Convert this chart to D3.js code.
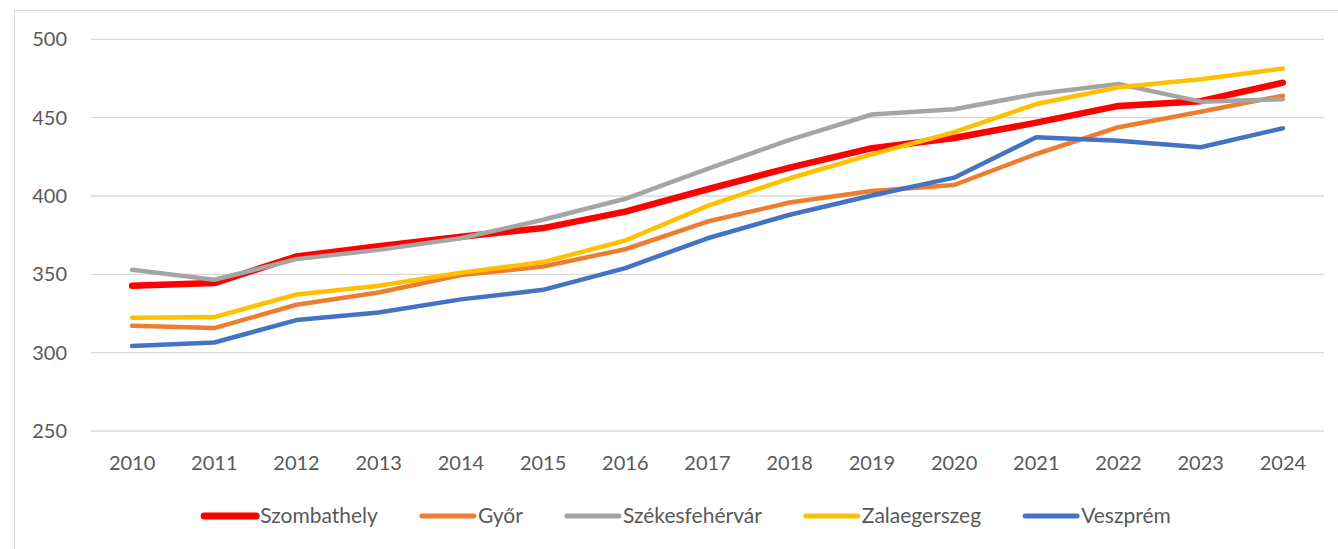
<!DOCTYPE html>
<html>
  <head>
    <meta charset="utf-8">
    <script src="https://cdn.jsdelivr.net/npm/d3@7/dist/d3.min.js"></script>
    <style>
      body { margin: 0; background: #fff; }
      text { font-family: Lato, "Open Sans", sans-serif; fill: #595959; }
    </style>
  </head>
  <body>
    <svg id="chart" width="1338" height="549"></svg>
    <script>
      var years = [2010, 2011, 2012, 2013, 2014, 2015, 2016, 2017, 2018, 2019, 2020, 2021, 2022, 2023, 2024];
      var yTicks = [250, 300, 350, 400, 450, 500];

      var szombathely = [342.7, 344.4, 361.4, 368, 374, 379.5, 390, 404.3, 418.1, 430.5, 437, 446.8, 457.5, 460.5, 472.3];
      var gyor = [317.1, 315.7, 330.6, 338.4, 349.5, 355, 366, 383.7, 395.8, 403.2, 407, 426.8, 443.9, 453.8, 464];
      var szekesfehervar = [352.9, 346.5, 359.7, 365.6, 373, 384.8, 398.2, 417.3, 435.8, 452, 455.3, 465.1, 471.5, 460.2, 461.7];
      var zalaegerszeg = [322.3, 322.7, 337.1, 342.7, 351, 357.8, 371.6, 393.7, 411.3, 426.5, 440.7, 458.7, 469.4, 474.5, 481.3];
      var veszprem = [304.2, 306.5, 320.8, 325.6, 334, 340.1, 354, 373, 388, 400.3, 411.7, 437.5, 435.3, 431.1, 443.2];

      var series = [
        { name: "Szombathely", values: szombathely, color: "#FF0000", width: 6.5 },
        { name: "Győr", values: gyor, color: "#ED7D31", width: 4.5 },
        { name: "Székesfehérvár", values: szekesfehervar, color: "#A5A5A5", width: 4.5 },
        { name: "Zalaegerszeg", values: zalaegerszeg, color: "#FFC000", width: 4.5 },
        { name: "Veszprém", values: veszprem, color: "#4472C4", width: 4.5 }
      ];

      var svg = d3.select("#chart");

      // chart area frame
      svg.append("rect").attr("x", 14.5).attr("y", 10.5).attr("width", 1400).attr("height", 600)
        .attr("fill", "none").attr("stroke", "#d9d9d9");

      var x = d3.scaleBand().domain(years).range([91, 1324]);
      var y = d3.scaleLinear().domain([250, 500]).range([431, 39.3]);

      // gridlines
      svg.append("g").selectAll("line").data(yTicks).enter().append("line")
        .attr("x1", 91).attr("x2", 1324)
        .attr("y1", d => y(d)).attr("y2", d => y(d))
        .attr("stroke", "#d9d9d9").attr("stroke-width", 1.3);

      // y labels
      svg.append("g").selectAll("text").data(yTicks).enter().append("text")
        .attr("x", 67).attr("y", d => y(d)).attr("dy", "0.35em")
        .attr("text-anchor", "end").attr("font-size", 20)
        .text(d => d);

      // x labels
      svg.append("g").selectAll("text").data(years).enter().append("text")
        .attr("x", d => x(d) + x.bandwidth() / 2).attr("y", 463).attr("dy", "0.35em")
        .attr("text-anchor", "middle").attr("font-size", 20)
        .text(d => d);

      var line = d3.line()
        .x((d, i) => x(years[i]) + x.bandwidth() / 2)
        .y(d => y(d));

      svg.append("g").selectAll("path").data(series).enter().append("path")
        .attr("d", d => line(d.values))
        .attr("fill", "none")
        .attr("stroke", d => d.color)
        .attr("stroke-width", d => d.width)
        .attr("stroke-linecap", "round")
        .attr("stroke-linejoin", "round");

      // legend
      var legend = svg.append("g");
      var items = legend.selectAll("g").data(series).enter().append("g");
      items.append("line")
        .attr("x1", 3).attr("x2", 55).attr("y1", 0).attr("y2", 0)
        .attr("stroke", d => d.color).attr("stroke-width", d => d.width + 0.5)
        .attr("stroke-linecap", "round");
      items.append("text")
        .attr("x", 59).attr("dy", "0.35em").attr("font-size", 21)
        .text(d => d.name);

      var pos = 0, gap = 41;
      items.each(function () {
        var w = 59 + d3.select(this).select("text").node().getComputedTextLength();
        d3.select(this).attr("transform", "translate(" + pos + ",0)");
        pos += w + gap;
      });
      var total = pos - gap;
      legend.attr("transform", "translate(" + (686 - total / 2) + ",516)");
    </script>
  </body>
</html>
